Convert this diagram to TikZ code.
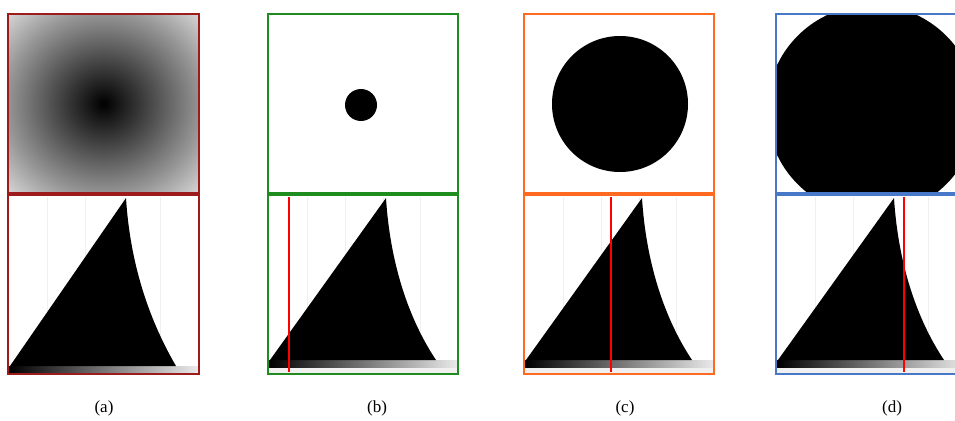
\documentclass[tikz,border=0pt]{standalone}
\usepackage{fontspec}
\setmainfont{Liberation Serif}
\definecolor{rojoA}{HTML}{9E1B1B}
\definecolor{verdeB}{HTML}{1E8C1E}
\definecolor{naranjaC}{HTML}{FF6A20}
\definecolor{azulD}{HTML}{4A78C8}
\colorlet{grisMedio}{white!58!black}
\colorlet{grisClaro}{white!84!black}
\pgfdeclareradialshading{cono}{\pgfpoint{0bp}{0bp}}{color(0bp)=(black); color(25bp)=(grisMedio); color(35.4bp)=(grisClaro); color(50bp)=(grisClaro)}
\begin{document}
\begin{tikzpicture}[
    x=1pt, y=-1pt,
    marco/.style={line width=1.6pt},
    rejilla/.style={gray!12,line width=.6pt},
    umbral/.style={red,line width=1.2pt},
    every node/.style={font=\fontsize{17}{20}\selectfont}]
    \useasboundingbox (0,0) rectangle (955,420);
    \clip (0,0) rectangle (955,420);

    % Imagen (a): distancia al centro en grises.
    \shade[shading=cono] (8,14) rectangle (199,193);

    % Imágenes (b), (c) y (d): discos negros.
    \fill (361,105) circle (16);
    \fill (620,104) circle (68);
    \begin{scope}
        \clip (776,14) rectangle (967,193);
        \fill (872,110) circle (105);
    \end{scope}

    % Histogramas con rejilla, barra de grises y perfil.
    \foreach \L/\base in {8/366, 268/360, 524/360, 776/360} {
        \foreach \g in {39,77,115,152}
            \draw[rejilla] (\L+\g,197) -- (\L+\g,\base);
        \fill[gray!12] (\L+1,\base) rectangle (\L+190,373);
        \shade[left color=black,right color=white!92!black]
            (\L+1,\base) rectangle (\L+190,\base+7);
        \fill (\L+2,\base) -- (\L+118,198)
            .. controls (\L+122,262) and (\L+140,318) .. (\L+168,\base) -- cycle;
    }

    % Umbrales.
    \coordinate (ubA) at (289,197);
    \coordinate (ubB) at (289,372);
    \coordinate (ucA) at (611,197);
    \coordinate (ucB) at (611,372);
    \coordinate (udA) at (904,197);
    \coordinate (udB) at (904,372);
    \draw[umbral] (ubA) -- (ubB);
    \draw[umbral] (ucA) -- (ucB);
    \draw[umbral] (udA) -- (udB);

    % Marcos de color.
    \draw[marco,rojoA] (8,14) rectangle (199,193) (8,195) rectangle (199,374);
    \draw[marco,verdeB] (268,14) rectangle (458,193) (268,195) rectangle (458,374);
    \draw[marco,naranjaC] (524,14) rectangle (714,193) (524,195) rectangle (714,374);
    \draw[marco,azulD] (776,14) rectangle (967,193) (776,195) rectangle (967,374);

    % Etiquetas.
    \node (etqA) at (104,408) {(a)};
    \node (etqB) at (377,408) {(b)};
    \node (etqC) at (625,408) {(c)};
    \node (etqD) at (892,408) {(d)};
\end{tikzpicture}
\end{document}
